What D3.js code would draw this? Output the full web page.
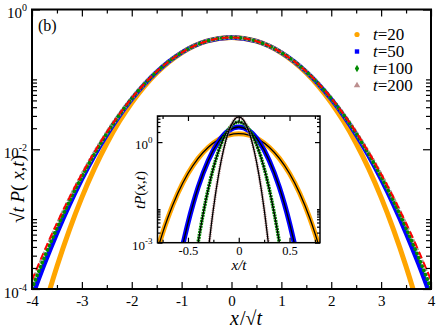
<!DOCTYPE html>
<html>
<head>
<meta charset="utf-8">
<script src="https://cdn.jsdelivr.net/npm/d3@7"></script>
<style>
body { margin: 0; background: #fff; }
svg { display: block; }
text { font-family: "Liberation Serif", "Times New Roman", serif; }
</style>
</head>
<body>
<svg id="chart" width="436" height="330"></svg>
<script>
// ---- main panel data: sqrt(t) P(x,t) against x/sqrt(t)
var xs = [-4, -3.75, -3.5, -3.25, -3, -2.75, -2.5, -2.25, -2, -1.75, -1.5, -1, -0.5, 0,
          0.5, 1, 1.5, 1.75, 2, 2.25, 2.5, 2.75, 3, 3.25, 3.5, 3.75, 4];
var gauss = [1.34e-4, 3.53e-4, 8.73e-4, 2.03e-3, 4.43e-3, 9.09e-3, 1.75e-2, 3.17e-2, 5.40e-2, 8.63e-2, 0.1295, 0.242, 0.352, 0.399,
             0.352, 0.242, 0.1295, 8.63e-2, 5.40e-2, 3.17e-2, 1.75e-2, 9.09e-3, 4.43e-3, 2.03e-3, 8.73e-4, 3.53e-4, 1.34e-4];
var t20 = [1.18e-5, 5.39e-5, 2.10e-4, 7.03e-4, 2.05e-3, 5.28e-3, 1.21e-2, 2.49e-2, 4.64e-2, 7.90e-2, 0.1234, 0.2397, 0.352, 0.399,
           0.352, 0.2397, 0.1234, 7.90e-2, 4.64e-2, 2.49e-2, 1.21e-2, 5.28e-3, 2.05e-3, 7.03e-4, 2.10e-4, 5.39e-5, 1.18e-5];
var t50 = [7.62e-5, 2.28e-4, 6.27e-4, 1.59e-3, 3.71e-3, 8.02e-3, 1.61e-2, 3.00e-2, 5.21e-2, 8.45e-2, 0.1281, 0.2415, 0.352, 0.399,
           0.352, 0.2415, 0.1281, 8.45e-2, 5.21e-2, 3.00e-2, 1.61e-2, 8.02e-3, 3.71e-3, 1.59e-3, 6.27e-4, 2.28e-4, 7.62e-5];
var t100 = [1.01e-4, 2.84e-4, 7.40e-4, 1.80e-3, 4.05e-3, 8.54e-3, 1.68e-2, 3.09e-2, 5.31e-2, 8.54e-2, 0.1288, 0.2417, 0.352, 0.399,
            0.352, 0.2417, 0.1288, 8.54e-2, 5.31e-2, 3.09e-2, 1.68e-2, 8.54e-3, 4.05e-3, 1.80e-3, 7.40e-4, 2.84e-4, 1.01e-4];
var t200 = [1.18e-4, 3.19e-4, 8.10e-4, 1.92e-3, 4.26e-3, 8.84e-3, 1.72e-2, 3.13e-2, 5.36e-2, 8.59e-2, 0.1292, 0.2419, 0.352, 0.399,
            0.352, 0.2419, 0.1292, 8.59e-2, 5.36e-2, 3.13e-2, 1.72e-2, 8.84e-3, 4.26e-3, 1.92e-3, 8.10e-4, 3.19e-4, 1.18e-4];

// ---- inset data: t P(x,t) against x/t
var u20 = [-0.8, -0.75, -0.7, -0.6, -0.5, -0.4, -0.3, -0.2, -0.1, 0, 0.1, 0.2, 0.3, 0.4, 0.5, 0.6, 0.7, 0.75, 0.8];
var tp20 = [6.25e-4, 1.93e-3, 5.33e-3, 2.98e-2, 0.1155, 0.327, 0.703, 1.189, 1.614, 1.784,
            1.614, 1.189, 0.703, 0.327, 0.1155, 2.98e-2, 5.33e-3, 1.93e-3, 6.25e-4];
var u50 = [-0.55, -0.5, -0.45, -0.4, -0.3, -0.2, -0.1, 0, 0.1, 0.2, 0.3, 0.4, 0.45, 0.5, 0.55];
var tp50 = [8.86e-4, 3.86e-3, 1.42e-2, 4.49e-2, 0.284, 1.029, 2.196, 2.821,
            2.196, 1.029, 0.284, 4.49e-2, 1.42e-2, 3.86e-3, 8.86e-4];
var u100 = [-0.42, -0.4, -0.35, -0.3, -0.25, -0.2, -0.15, -0.1, -0.05, 0, 0.05, 0.1, 0.15, 0.2, 0.25, 0.3, 0.35, 0.4, 0.42];
var tp100 = [4.18e-4, 1.01e-3, 7.40e-3, 4.05e-2, 0.168, 0.530, 1.288, 2.417, 3.520, 3.989,
             3.520, 2.417, 1.288, 0.530, 0.168, 4.05e-2, 7.40e-3, 1.01e-3, 4.18e-4];
var u200 = [-0.3, -0.25, -0.2, -0.15, -0.1, -0.05, 0, 0.05, 0.1, 0.15, 0.2, 0.25, 0.3];
var tp200 = [5.92e-4, 1.007e-2, 0.1001, 0.589, 2.071, 4.393, 5.641, 4.393, 2.071, 0.589, 0.1001, 1.007e-2, 5.92e-4];

var legendLabels = ['20', '50', '100', '200'];
var mainXTicks = [-4, -3, -2, -1, 0, 1, 2, 3, 4];
var mainXMinor = [-3.5, -2.5, -1.5, -0.5, 0.5, 1.5, 2.5, 3.5];
var mainYTicks = [1e-4, 1e-2, 1];
var mainYMinor = [2e-4, 3e-4, 4e-4, 5e-4, 6e-4, 7e-4, 8e-4, 9e-4, 1e-3,
                  2e-2, 3e-2, 4e-2, 5e-2, 6e-2, 7e-2, 8e-2, 9e-2, 1e-1];
var insetXTicks = [-0.5, 0, 0.5];
var insetXMinor = [-0.75, -0.25, 0.25, 0.75];
var insetYTicks = [1e-3, 1];
var insetYMinor = [2e-3, 3e-3, 4e-3, 5e-3, 6e-3, 7e-3, 8e-3, 9e-3, 1e-2, 2, 3, 4, 5, 6];

var colors = { t20: '#ffa500', t50: '#0000ff', t100: '#008b00', t200: '#a89696', theory: '#ff0000' };

var svg = d3.select('#chart');

// main frame (names avoid window.top)
var mL = 32, mR = 431, mT = 9.5, mB = 289;
var x = d3.scaleLinear().domain([-4, 4]).range([mL, mR]);
var y = d3.scaleLog().domain([1e-4, 1]).range([mB, mT]);

svg.append('clipPath').attr('id', 'mainclip')
   .append('rect').attr('x', mL).attr('y', mT).attr('width', mR - mL).attr('height', mB - mT);

function pairs(a, b) { return a.map(function (v, i) { return [v, b[i]]; }); }

var mainLine = d3.line().x(function (d) { return x(d[0]); }).y(function (d) { return y(d[1]); })
                 .curve(d3.curveMonotoneX);

var curves = svg.append('g').attr('clip-path', 'url(#mainclip)');
curves.append('path').attr('d', mainLine(pairs(xs, t20))).attr('fill', 'none')
      .attr('stroke', colors.t20).attr('stroke-width', 5);
curves.append('path').attr('d', mainLine(pairs(xs, t50))).attr('fill', 'none')
      .attr('stroke', colors.t50).attr('stroke-width', 4.5);
curves.append('path').attr('d', mainLine(pairs(xs, t200))).attr('fill', 'none')
      .attr('stroke', colors.t200).attr('stroke-width', 4).attr('stroke-dasharray', '3,1.5');
curves.append('path').attr('d', mainLine(pairs(xs, t100))).attr('fill', 'none')
      .attr('stroke', colors.t100).attr('stroke-width', 3.6).attr('stroke-linecap', 'round')
      .attr('stroke-dasharray', '0.4,4.2');
curves.append('path').attr('d', mainLine(pairs(xs, gauss))).attr('fill', 'none')
      .attr('stroke', colors.theory).attr('stroke-width', 2).attr('stroke-dasharray', '7,4');

// axes with inward ticks
function noDomain(g) { g.select('.domain').remove(); g.attr('font-family', null); }
function sup(sel, size, dy) {
    sel.selectAll('.tick text').each(function (d) {
        var t = d3.select(this);
        t.text('10');
        t.append('tspan').attr('dy', dy).attr('font-size', size).text(Math.round(Math.log10(d)));
    });
}

svg.append('g').attr('transform', 'translate(0,' + mB + ')')
   .call(d3.axisBottom(x).tickValues(mainXTicks).tickSize(-7).tickPadding(6).tickFormat(function (d) { return String(d); }))
   .call(noDomain).attr('font-size', 15);
svg.append('g').attr('transform', 'translate(0,' + mB + ')')
   .call(d3.axisBottom(x).tickValues(mainXMinor).tickSize(-4).tickFormat('')).call(noDomain);
svg.append('g').attr('transform', 'translate(0,' + mT + ')')
   .call(d3.axisTop(x).tickValues(mainXTicks).tickSize(-7).tickFormat('')).call(noDomain);
svg.append('g').attr('transform', 'translate(0,' + mT + ')')
   .call(d3.axisTop(x).tickValues(mainXMinor).tickSize(-4).tickFormat('')).call(noDomain);

var yAxisL = svg.append('g').attr('transform', 'translate(' + mL + ',0)')
   .call(d3.axisLeft(y).tickValues(mainYTicks).tickSize(-8).tickPadding(5))
   .call(noDomain).attr('font-size', 15);
sup(yAxisL, 10, -7);
yAxisL.selectAll('.tick text').attr('dy', '0.55em');
svg.append('g').attr('transform', 'translate(' + mL + ',0)')
   .call(d3.axisLeft(y).tickValues(mainYMinor).tickSize(-5).tickFormat('')).call(noDomain);
svg.append('g').attr('transform', 'translate(' + mR + ',0)')
   .call(d3.axisRight(y).tickValues(mainYTicks).tickSize(-8).tickFormat('')).call(noDomain);
svg.append('g').attr('transform', 'translate(' + mR + ',0)')
   .call(d3.axisRight(y).tickValues(mainYMinor).tickSize(-5).tickFormat('')).call(noDomain);

svg.append('rect').attr('x', mL).attr('y', mT).attr('width', mR - mL).attr('height', mB - mT)
   .attr('fill', 'none').attr('stroke', '#000').attr('stroke-width', 2);

// axis titles
var yTitle = svg.append('text').attr('transform', 'translate(24,189) rotate(-90)')
   .attr('text-anchor', 'middle').attr('font-size', 19);
yTitle.append('tspan').text('\u221A');
yTitle.append('tspan').attr('font-style', 'italic').text('t');
yTitle.append('tspan').text(' ');
yTitle.append('tspan').attr('font-style', 'italic').text('P');
yTitle.append('tspan').text('( ');
yTitle.append('tspan').attr('font-style', 'italic').text('x');
yTitle.append('tspan').text(',');
yTitle.append('tspan').attr('font-style', 'italic').text('t');
yTitle.append('tspan').text(')');

var xTitle = svg.append('text').attr('x', 230).attr('y', 325).attr('font-size', 20);
xTitle.append('tspan').attr('font-style', 'italic').text('x');
xTitle.append('tspan').attr('dx', 1).text('/\u221A');
xTitle.append('tspan').attr('font-style', 'italic').text('t');

svg.append('text').attr('x', 38).attr('y', 31).attr('font-size', 16).text('(b)');

// legend
var legendY = [34.5, 51.5, 68.5, 85.5];
var lg = svg.append('g');
lg.append('circle').attr('cx', 357).attr('cy', legendY[0]).attr('r', 2.6).attr('fill', colors.t20);
lg.append('rect').attr('x', 354.8).attr('y', legendY[1] - 2.2).attr('width', 4.4).attr('height', 4.4).attr('fill', colors.t50);
lg.append('path').attr('d', d3.symbol().type(d3.symbolDiamond).size(16)())
  .attr('transform', 'translate(357,' + legendY[2] + ')').attr('fill', colors.t100);
lg.append('path').attr('d', d3.symbol().type(d3.symbolTriangle).size(18)())
  .attr('transform', 'translate(357,' + legendY[3] + ')').attr('fill', '#bc8f8f');
legendLabels.forEach(function (lab, i) {
    var t = lg.append('text').attr('x', 373).attr('y', legendY[i] + 5.6).attr('font-size', 17);
    t.append('tspan').attr('font-style', 'italic').text('t');
    t.append('tspan').text('=' + lab);
});

// ---- inset
var il = 157.5, ir = 320, it = 116, ib = 242.7;
var ix = d3.scaleLinear().domain([-0.8, 0.8]).range([il, ir]);
var iy = d3.scaleLog().domain([1e-3, 6]).range([ib, it]);

svg.append('rect').attr('x', il).attr('y', it).attr('width', ir - il).attr('height', ib - it).attr('fill', '#fff');
svg.append('clipPath').attr('id', 'insetclip')
   .append('rect').attr('x', il).attr('y', it).attr('width', ir - il).attr('height', ib - it);

var insetLine = d3.line().x(function (d) { return ix(d[0]); }).y(function (d) { return iy(d[1]); })
                  .curve(d3.curveMonotoneX);
var ic = svg.append('g').attr('clip-path', 'url(#insetclip)');
[[u20, tp20, colors.t20, 5, null],
 [u50, tp50, colors.t50, 5, null],
 [u100, tp100, colors.t100, 3.6, '2,0.8'],
 [u200, tp200, '#bc8f8f', 3, '1.2,1']].forEach(function (s) {
    var p = insetLine(pairs(s[0], s[1]));
    ic.append('path').attr('d', p).attr('fill', 'none').attr('stroke', s[2]).attr('stroke-width', s[3])
      .attr('stroke-dasharray', s[4]);
    ic.append('path').attr('d', p).attr('fill', 'none').attr('stroke', '#000').attr('stroke-width', 1.3);
});

svg.append('g').attr('transform', 'translate(0,' + ib + ')')
   .call(d3.axisBottom(ix).tickValues(insetXTicks).tickSize(-5).tickPadding(3).tickFormat(function (d) { return String(d); }))
   .call(noDomain).attr('font-size', 12.5);
svg.append('g').attr('transform', 'translate(0,' + ib + ')')
   .call(d3.axisBottom(ix).tickValues(insetXMinor).tickSize(-3).tickFormat('')).call(noDomain);
svg.append('g').attr('transform', 'translate(0,' + it + ')')
   .call(d3.axisTop(ix).tickValues(insetXTicks).tickSize(-5).tickFormat('')).call(noDomain);
svg.append('g').attr('transform', 'translate(0,' + it + ')')
   .call(d3.axisTop(ix).tickValues(insetXMinor).tickSize(-3).tickFormat('')).call(noDomain);

var iyL = svg.append('g').attr('transform', 'translate(' + il + ',0)')
   .call(d3.axisLeft(iy).tickValues(insetYTicks).tickSize(-5).tickPadding(5))
   .call(noDomain).attr('font-size', 13);
sup(iyL, 9, -6);
iyL.selectAll('.tick text').attr('dy', '0.5em');
svg.append('g').attr('transform', 'translate(' + il + ',0)')
   .call(d3.axisLeft(iy).tickValues(insetYMinor).tickSize(-3).tickFormat('')).call(noDomain);
svg.append('g').attr('transform', 'translate(' + ir + ',0)')
   .call(d3.axisRight(iy).tickValues(insetYTicks).tickSize(-5).tickFormat('')).call(noDomain);
svg.append('g').attr('transform', 'translate(' + ir + ',0)')
   .call(d3.axisRight(iy).tickValues(insetYMinor).tickSize(-3).tickFormat('')).call(noDomain);

svg.selectAll('.tick line').attr('stroke-width', 1.2);

svg.append('rect').attr('x', il).attr('y', it).attr('width', ir - il).attr('height', ib - it)
   .attr('fill', 'none').attr('stroke', '#000').attr('stroke-width', 1.5);

var iyTitle = svg.append('text').attr('transform', 'translate(145,190) rotate(-90)')
   .attr('text-anchor', 'middle').attr('font-size', 15).attr('font-style', 'italic');
iyTitle.append('tspan').text('tP');
iyTitle.append('tspan').attr('font-style', 'normal').text('(');
iyTitle.append('tspan').text('x');
iyTitle.append('tspan').attr('font-style', 'normal').text(',');
iyTitle.append('tspan').text('t');
iyTitle.append('tspan').attr('font-style', 'normal').text(')');

svg.append('text').attr('x', 239).attr('y', 269.5).attr('text-anchor', 'middle')
   .attr('font-size', 15).attr('font-style', 'italic').text('x/t');
</script>
</body>
</html>
